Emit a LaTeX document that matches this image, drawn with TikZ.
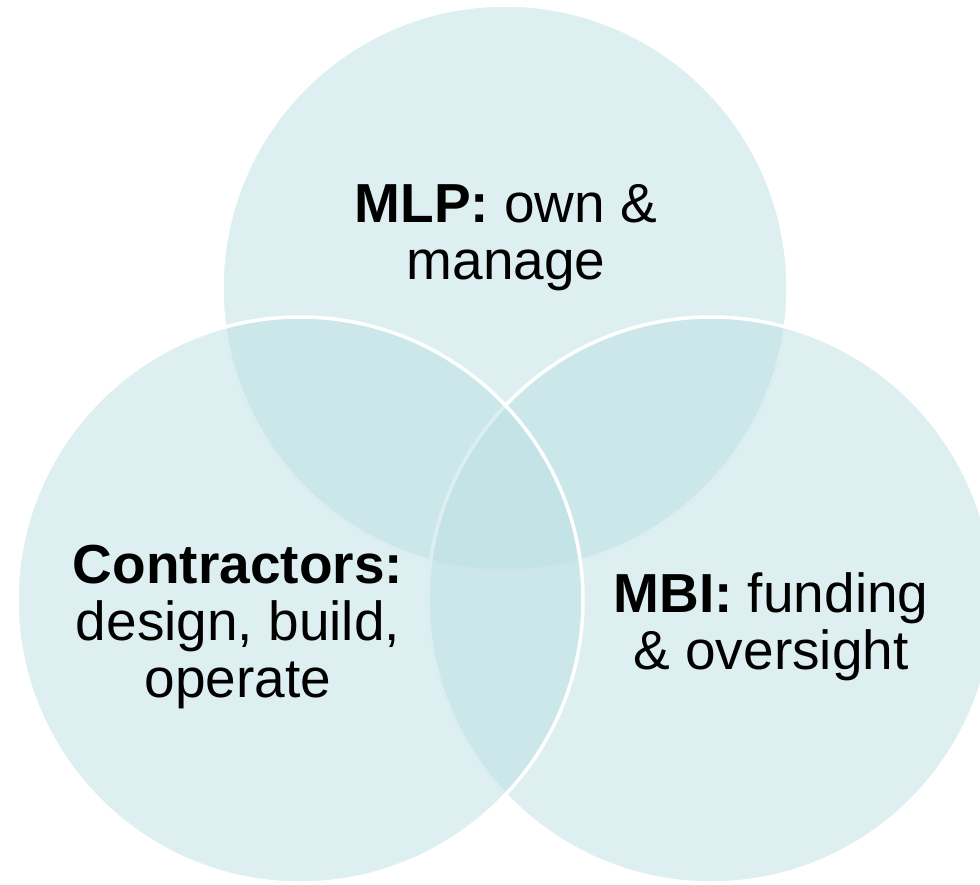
\documentclass[tikz,border=0pt]{standalone}
\usepackage{fontspec}
\setmainfont{Liberation Sans}
\definecolor{vennfill}{RGB}{187,223,227}
\begin{document}
\begin{tikzpicture}[x=1pt,y=-1pt,
  venn/.style={circle, minimum size=566pt, inner sep=0pt, fill=vennfill, fill opacity=0.5, draw=white, line width=3.5pt},
  lbl/.style={align=center, font=\fontsize{55}{57}\selectfont, text=black, inner sep=0pt, anchor=base}]
\useasboundingbox (0,0) rectangle (980,884);
\node[venn] (top) at (505,288) {};
\node[venn] (right) at (711,600) {};
\node[venn] (left) at (300,600) {};
\node[lbl] (mlp) at (506,279) {\textbf{MLP:} own \&\\manage};
\node[lbl] (con) at (238,697) {\textbf{Contractors:}\\design, build,\\operate};
\node[lbl] (mbi) at (771,669) {\textbf{MBI:} funding\\\& oversight};
\end{tikzpicture}
\end{document}
